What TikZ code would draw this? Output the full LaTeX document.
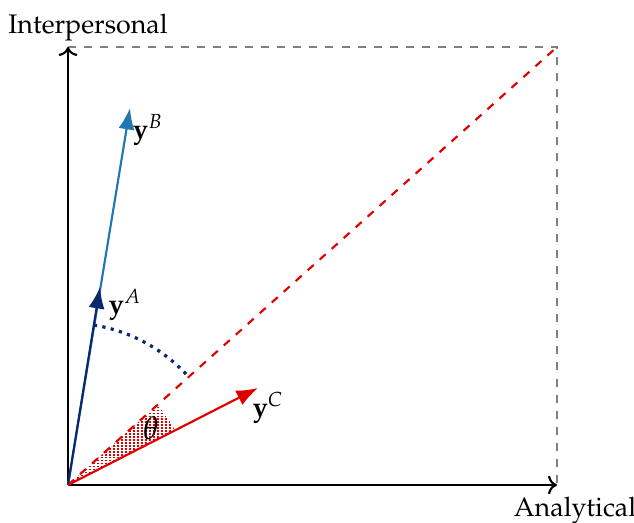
\documentclass[tikz,border=0pt]{standalone}
\usepackage[T1]{fontenc}
\usepackage{amsmath,amssymb}
\usepackage{mathpazo}
\usepackage{tikz}
\usetikzlibrary{calc,positioning}
\usetikzlibrary{arrows.meta}

\definecolor{vecA}{RGB}{10,40,110}
\definecolor{vecB}{RGB}{31,119,180}
\definecolor{vecC}{RGB}{225,0,0}
\tikzset{
  axis/.style={->,thick,black},
  vecarrow/.style={-{Latex[length=8pt,width=6pt]},thick},
  boxline/.style={dashed,gray,thick},
  hatch/.style={vecC,line width=0.65pt,dash pattern=on 0.6pt off 0.5pt},
}

\begin{document}
\begin{tikzpicture}[x=0.0131cm,y=0.0131cm]
				 \useasboundingbox (-68,-38) rectangle (566,485);
				 % \draw[color=gray,step=50, help lines,opacity=0.3] (-68,-38) grid (566,485); %help grids
				 \coordinate (O) at (0,0);
				 \coordinate (X) at (489,0);
				 \coordinate (Y) at (0,438);
				 \coordinate (K) at (489,438);
				 \coordinate (A) at (32,198);
				 \coordinate (B) at (62,377);
				 \coordinate (C) at (190,97);
				 % theta wedge
				 \begin{scope}
				   \clip (O) -- (27.04:120) arc[start angle=27.04,end angle=41.85,radius=120] -- cycle;
				   \foreach \xx in {2,6,...,122}
				     \draw[hatch] (\xx,0)--(\xx,100);
				 \end{scope}
				 \draw[boxline] (Y)--(K)--(X);
				 \draw[axis] (O)--(X);
				 \draw[axis] (O)--(Y);
				 \draw[dashed,vecC,thick] (O)--(K);
				 \draw[vecarrow,vecB] (O)--(B);
				 \draw[vecarrow,vecA] (O)--(A);
				 \draw[vecarrow,vecC] (O)--(C);
				 \draw[dotted,vecA,very thick] (80.8:162) arc[start angle=80.8,end angle=41.85,radius=162];
				 \node (lblY) at (20,457) {Interpersonal};
				 \node (lblX) at (507,-26) {Analytical};
				 \node (lblA) at (57,180) {$\mathbf{y}^{A}$};
				 \node (lblB) at (80,355) {$\mathbf{y}^{B}$};
				 \node (lblC) at (200,77) {$\mathbf{y}^{C}$};
				 \node (lblT) at (83,57) {\large$\theta$};
\end{tikzpicture}
\end{document}
